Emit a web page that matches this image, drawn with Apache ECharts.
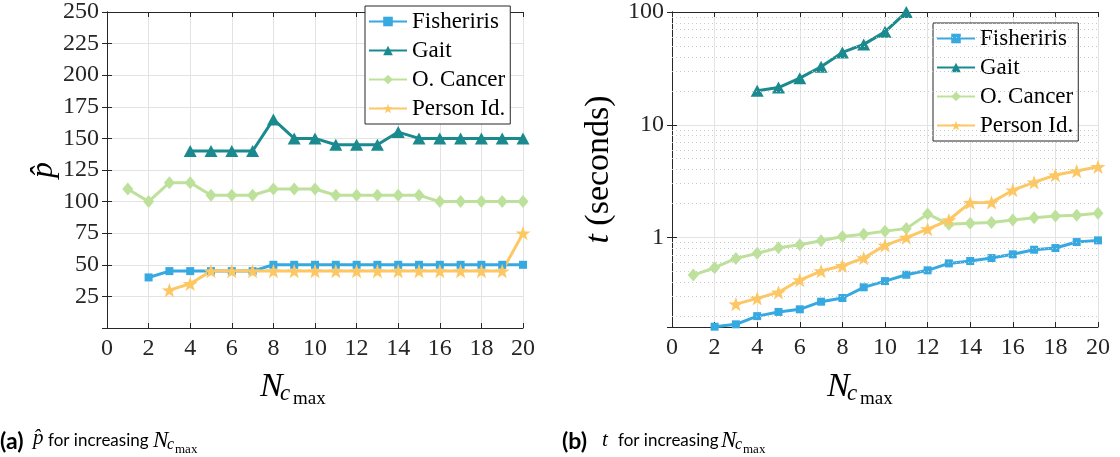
<!DOCTYPE html>
<html><head><meta charset="utf-8">
<script src="https://cdn.jsdelivr.net/npm/echarts@6/dist/echarts.min.js"></script>
<style>html,body{margin:0;padding:0;background:#fff;}#c{width:1120px;height:457px;}</style>
</head><body><div id="c"></div>
<script>
// ---- data ----
const nValues = [1,2,3,4,5,6,7,8,9,10,11,12,13,14,15,16,17,18,19,20];
const seriesNames = ['Fisheriris','Gait','O. Cancer','Person Id.'];
// (a) p-hat
const fisherP = [null,40,45,45,45,45,45,50,50,50,50,50,50,50,50,50,50,50,50,50];
const gaitP   = [null,null,null,140,140,140,140,165,150,150,145,145,145,155,150,150,150,150,150,150];
const cancerP = [110,100,115,115,105,105,105,110,110,110,105,105,105,105,105,100,100,100,100,100];
const personP = [null,null,30,35,45,45,45,45,45,45,45,45,45,45,45,45,45,45,45,75];
// (b) t (seconds)
const fisherT = [null,0.162,0.170,0.201,0.219,0.231,0.270,0.291,0.362,0.411,0.468,0.512,0.590,0.619,0.658,0.710,0.780,0.807,0.912,0.944];
const gaitT   = [null,null,null,20.0,21.4,25.9,32.7,43.8,51.6,66.7,99.8,null,null,null,null,null,null,null,null,null];
const cancerT = [0.465,0.540,0.653,0.724,0.812,0.864,0.937,1.02,1.07,1.14,1.20,1.62,1.31,1.34,1.36,1.43,1.50,1.55,1.58,1.64];
const personT = [null,null,0.257,0.289,0.327,0.420,0.505,0.562,0.658,0.853,1.00,1.19,1.43,2.04,2.05,2.63,3.09,3.58,3.89,4.24];
// tick labels
const xTickLabels = [0,2,4,6,8,10,12,14,16,18,20];
const pTickLabels = [25,50,75,100,125,150,175,200,225,250];
const tTickLabels = [1,10,100];
const tMinorGrid = [0.2,0.3,0.4,0.5,0.6,0.7,0.8,0.9,2,3,4,5,6,7,8,9,20,30,40,50,60,70,80,90];

// ---- style ----
const colors = ['#36a9e1','#1b8a8f','#bde19b','#fdc864'];
const STAR = 'path://M50,0 L61.76,33.82 L97.55,34.55 L69.02,56.18 L79.39,90.45 L50,70 L20.61,90.45 L30.98,56.18 L2.45,34.55 L38.24,33.82 Z';
const symbols = ['rect','triangle','diamond',STAR];
const symbolSizes = [[8,8],[13,12],[11,13],[15,15]];
const SERIF = 'Liberation Serif';
const SANS = 'Lato';
const AX = '#262626';
const GRIDC = '#e3e3e3';

function pairs(vals){ const out=[]; nValues.forEach((n,i)=>{ if(vals[i]!=null) out.push([n, vals[i]]); }); return out; }

function mkSeries(name, idx, vals, axisIdx){
  return {
    type:'line', name, xAxisIndex:axisIdx, yAxisIndex:axisIdx,
    data: pairs(vals),
    symbol: symbols[idx], symbolSize: symbolSizes[idx], symbolKeepAspect:true,
    lineStyle:{color:colors[idx], width:3},
    itemStyle:{color:colors[idx]},
    showAllSymbol:true, animation:false, z:3, clip:true
  };
}

const xCommon = (grid, show) => ({
  type:'value', gridIndex:grid, min:0, max:20, interval:2,
  position: show ? 'bottom' : 'top',
  axisLine:{show:true, onZero:false, lineStyle:{color:AX, width:1}},
  axisTick:{show:true, inside:true, length:5, lineStyle:{color:AX}},
  axisLabel:{show:show, fontFamily:SERIF, fontSize:24, color:'#262626', margin:9,
    formatter: v => xTickLabels.includes(v) ? String(v) : ''},
  splitLine:{show:show, lineStyle:{color:GRIDC, width:1}}
});

const legendText = {fontFamily:SERIF, fontSize:23, color:'#000'};
const legendCommon = {
  orient:'vertical', itemWidth:38, itemHeight:12, itemGap:6,
  padding:[4,5,4,3], borderColor:'#262626', borderWidth:1, backgroundColor:'#fff', selectedMode:false,
  textStyle: legendText,
  data: seriesNames
};

const option = {
  backgroundColor:'#fff',
  animation:false,
  textStyle:{fontFamily:SERIF},
  grid:[
    {left:107, top:12, width:416, height:316},
    {left:672, top:12, width:426, height:315}
  ],
  xAxis:[ xCommon(0,true), xCommon(0,false), xCommon(1,true), xCommon(1,false) ],
  yAxis:[
    {type:'value', gridIndex:0, min:0, max:250, interval:25,
     axisLine:{show:true, lineStyle:{color:AX}},
     axisTick:{show:true, inside:true, length:5, lineStyle:{color:AX}},
     axisLabel:{fontFamily:SERIF, fontSize:24, color:'#262626', margin:8, showMinLabel:false,
       formatter: v => pTickLabels.includes(v) ? String(v) : ''},
     splitLine:{show:true, lineStyle:{color:GRIDC}},
     name:'p\u0302', nameLocation:'middle', nameGap:29, nameRotate:90,
     nameTextStyle:{fontFamily:SERIF, fontStyle:'italic', fontSize:32, color:'#000'}},
    {type:'value', gridIndex:0, min:0, max:250, interval:25, position:'right',
     axisLine:{show:true, lineStyle:{color:AX}},
     axisTick:{show:true, inside:true, length:5, lineStyle:{color:AX}},
     axisLabel:{show:false}, splitLine:{show:false}},
    {type:'log', logBase:10, gridIndex:1, min:0.161, max:100,
     axisLine:{show:true, lineStyle:{color:AX}},
     axisTick:{show:true, inside:true, length:5, lineStyle:{color:AX}},
     axisLabel:{fontFamily:SERIF, fontSize:24, color:'#262626', margin:8, showMinLabel:false,
       formatter: v => { const m = tTickLabels.find(t => Math.abs(t - v) < 1e-6*t); return m ? String(m) : ''; }},
     splitLine:{show:true, lineStyle:{color:GRIDC}},
     name:'{i|t} (seconds)', nameLocation:'middle', nameGap:56, nameRotate:90,
     nameTextStyle:{fontFamily:SERIF, fontSize:34, color:'#000',
       rich:{i:{fontFamily:SERIF, fontStyle:'italic', fontSize:34, color:'#000'}}}},
    {type:'log', logBase:10, gridIndex:1, min:0.161, max:100, position:'right',
     axisLine:{show:true, lineStyle:{color:AX}},
     axisTick:{show:true, inside:true, length:5, lineStyle:{color:AX}},
     axisLabel:{show:false}, splitLine:{show:false}}
  ],
  legend:[
    Object.assign({left:365, top:6}, legendCommon),
    Object.assign({left:933, top:23}, legendCommon)
  ],
  series:[
    mkSeries(seriesNames[0],0,fisherP,0),
    mkSeries(seriesNames[1],1,gaitP,0),
    mkSeries(seriesNames[2],2,cancerP,0),
    mkSeries(seriesNames[3],3,personP,0),
    {type:'line', name:'minor', xAxisIndex:2, yAxisIndex:2, data:[], z:1, silent:true,
     markLine:{silent:true, symbol:['none','none'], label:{show:false}, animation:false,
       lineStyle:{color:'#c8c8c8', type:[1,3], width:1},
       data: tMinorGrid.map(v => ({yAxis:v}))}},
    mkSeries(seriesNames[0],0,fisherT,2),
    mkSeries(seriesNames[1],1,gaitT,2),
    mkSeries(seriesNames[2],2,cancerT,2),
    mkSeries(seriesNames[3],3,personT,2)
  ],
  graphic: []
};

function txt(x, y, text, size, opts){
  return {type:'text', left:x, top:y, silent:true,
    style:Object.assign({text, fontSize:size, fontFamily:SERIF, fill:'#000'}, opts||{})};
}
function mathN(x, y, s){
  return [
    txt(x, y, 'N', Math.round(34*s), {fontStyle:'italic'}),
    txt(x + Math.round(20*s), y + Math.round(12*s), 'c', Math.round(23*s), {fontStyle:'italic'}),
    txt(x + Math.round(33*s), y + Math.round(20*s), 'max', Math.round(19*s))
  ];
}
option.graphic = [].concat(
  mathN(260, 370, 1),
  mathN(827, 370, 1),
  [
    txt(0, 430, '(a)', 23, {fontFamily:SANS, fontWeight:'bold'}),
    txt(33, 428, 'p\u0302', 21, {fontStyle:'italic'}),
    txt(48, 432, 'for increasing', 17, {fontFamily:SANS}),
    txt(562, 430, '(b)', 23, {fontFamily:SANS, fontWeight:'bold'}),
    txt(602, 430, 't', 21, {fontStyle:'italic'}),
    txt(618, 432, 'for increasing', 17, {fontFamily:SANS})
  ],
  mathN(153, 429, 0.68),
  mathN(721, 429, 0.68)
);

const chart = echarts.init(document.getElementById('c'), null, {renderer:'canvas'});
chart.setOption(option);
</script></body></html>
